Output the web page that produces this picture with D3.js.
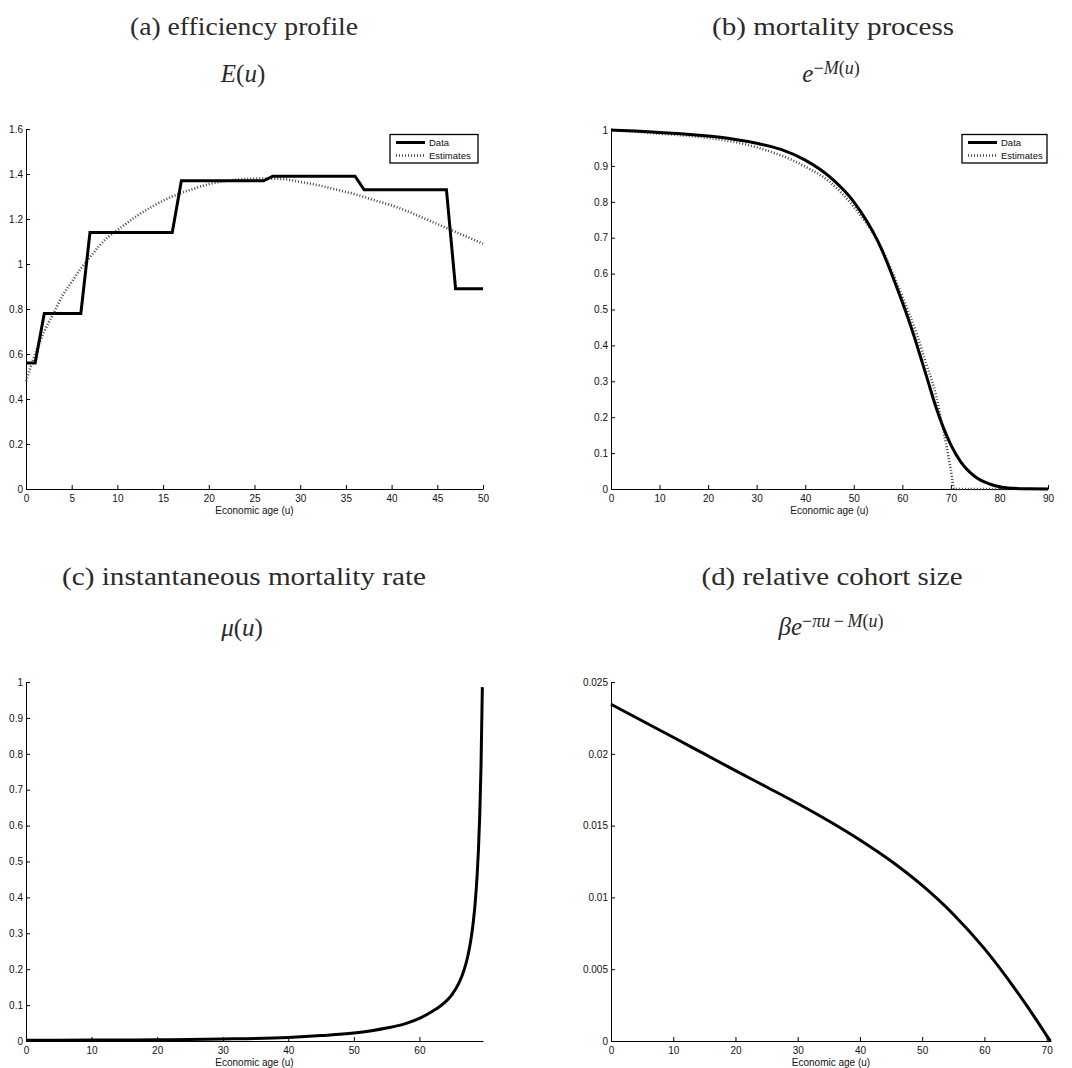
<!DOCTYPE html>
<html>
<head>
<meta charset="utf-8">
<script src="https://cdn.jsdelivr.net/npm/d3@7"></script>
<style>
  html, body { margin: 0; padding: 0; background: #fff; }
  svg { display: block; }
</style>
</head>
<body>
<svg id="chart" width="1072" height="1068"></svg>
<script>
// ---------------- DATA ----------------
// (a) efficiency profile
const effAge      = [0, 1, 2, 6, 7, 16, 17, 26, 27, 36, 37, 46, 47, 50];
const effData     = [0.56, 0.56, 0.78, 0.78, 1.14, 1.14, 1.37, 1.37, 1.39, 1.39, 1.33, 1.33, 0.89, 0.89];
const effEstAge   = [0, 1, 2, 3, 4, 5, 6, 7, 8, 9, 10, 12, 14, 16, 18, 20, 22, 24, 26, 28, 30, 32, 34, 36, 38, 40, 42, 44, 46, 48, 50];
const effEst      = [0.48, 0.60, 0.70, 0.78, 0.86, 0.92, 0.98, 1.03, 1.08, 1.12, 1.15, 1.21, 1.26, 1.30, 1.33, 1.355, 1.37, 1.378, 1.38, 1.378, 1.365, 1.35, 1.33, 1.31, 1.285, 1.26, 1.23, 1.195, 1.16, 1.125, 1.09];
const effXTicks   = [0, 5, 10, 15, 20, 25, 30, 35, 40, 45, 50];
const effYTicks   = [0, 0.2, 0.4, 0.6, 0.8, 1, 1.2, 1.4, 1.6];

// (b) mortality process
const mortAge     = [0, 5, 10, 15, 20, 25, 30, 35, 40, 45, 50, 55, 60, 62, 65, 67, 70, 72, 75, 78, 80, 83, 86, 90];
const mortData    = [1, 0.997, 0.993, 0.989, 0.983, 0.975, 0.963, 0.946, 0.916, 0.870, 0.800, 0.689, 0.520, 0.443, 0.313, 0.225, 0.123, 0.076, 0.034, 0.014, 0.0065, 0.002, 0.0005, 0];
const mortEstAge  = [0, 10, 20, 30, 40, 45, 50, 55, 60, 63, 65, 67, 68, 69, 70, 70.7, 75, 80, 90];
const mortEst     = [1, 0.99, 0.978, 0.952, 0.898, 0.856, 0.786, 0.689, 0.536, 0.43, 0.345, 0.257, 0.19, 0.127, 0.053, 0, 0, 0, 0];
const mortXTicks  = [0, 10, 20, 30, 40, 50, 60, 70, 80, 90];
const unitYTicks  = [0, 0.1, 0.2, 0.3, 0.4, 0.5, 0.6, 0.7, 0.8, 0.9, 1];

// (c) instantaneous mortality rate
const muAge       = [0, 10, 20, 30, 40, 45, 50, 55, 58, 60, 62, 63, 64, 65, 66, 66.5, 67, 67.25, 67.5, 67.75, 68, 68.25, 68.5, 68.8, 69, 69.2, 69.4, 69.6];
const muVal       = [0.002, 0.0025, 0.0035, 0.0055, 0.010, 0.015, 0.022, 0.036, 0.049, 0.063, 0.0831, 0.0945, 0.1095, 0.1302, 0.1605, 0.1816, 0.2091, 0.2262, 0.2464, 0.2706, 0.30, 0.3366, 0.3833, 0.46, 0.5308, 0.6273, 0.7667, 0.9857];
const muXTicks    = [0, 10, 20, 30, 40, 50, 60];

// (d) relative cohort size
const cohortAge   = [0, 5, 10, 15, 20, 25, 30, 35, 40, 45, 50, 55, 60, 65, 67, 68, 69, 70, 70.6];
const cohortVal   = [0.02345, 0.0223, 0.02115, 0.01999, 0.01883, 0.01769, 0.01654, 0.01532, 0.014, 0.01253, 0.01083, 0.00883, 0.00643, 0.00358, 0.00234, 0.0017, 0.00104, 0.00038, 0];
const cohortXTicks = [0, 10, 20, 30, 40, 50, 60, 70];
const cohortYTicks = [0, 0.005, 0.01, 0.015, 0.02, 0.025];

const xLabel = "Economic age (u)";
const legendLabels = ["Data", "Estimates"];

// ---------------- DRAW ----------------
const svg = d3.select("#chart");
svg.append("rect").attr("width", 1072).attr("height", 1068).attr("fill", "#fff");

const TICK_FONT = "'Liberation Sans', Arial, Helvetica, sans-serif";
const SERIF = "'Liberation Serif', 'Times New Roman', serif";

function zip(xs, ys) { return xs.map((x, i) => [x, ys[i]]); }

function panel(cfg) {
  const x = d3.scaleLinear().domain(cfg.xDomain).range([cfg.left, cfg.right]);
  const y = d3.scaleLinear().domain(cfg.yDomain).range([cfg.bottom, cfg.top]);
  const g = svg.append("g");

  const fmt = d => String(+d.toFixed(4));

  const xa = g.append("g").attr("transform", `translate(0,${cfg.bottom})`)
    .call(d3.axisBottom(x).tickValues(cfg.xTicks).tickSize(-4).tickSizeOuter(0).tickPadding(6).tickFormat(d => String(d)));
  const ya = g.append("g").attr("transform", `translate(${cfg.left},0)`)
    .call(d3.axisLeft(y).tickValues(cfg.yTicks).tickSize(-4).tickSizeOuter(0).tickPadding(3).tickFormat(fmt));
  [xa, ya].forEach(a => {
    a.selectAll("text").attr("font-family", TICK_FONT).attr("font-size", 10).attr("fill", "#111");
    a.selectAll("line").attr("stroke", "#000");
    a.select(".domain").attr("stroke", "#000").attr("stroke-width", 1);
    a.attr("font-family", null).attr("font-size", null);
  });

  g.append("text")
    .attr("x", (cfg.left + cfg.right) / 2).attr("y", cfg.bottom + 25)
    .attr("text-anchor", "middle").attr("font-family", TICK_FONT).attr("font-size", 10).attr("fill", "#111")
    .text(xLabel);

  const line = d3.line().x(d => x(d[0])).y(d => y(d[1])).curve(d3.curveMonotoneX);
  const linear = d3.line().x(d => x(d[0])).y(d => y(d[1]));

  if (cfg.est) {
    g.append("path").datum(cfg.est).attr("d", line)
      .attr("fill", "none").attr("stroke", "#444").attr("stroke-width", 2.6)
      .attr("stroke-dasharray", "1,2");
  }
  g.append("path").datum(cfg.data).attr("d", cfg.dataLinear ? linear : line)
    .attr("fill", "none").attr("stroke", "#000").attr("stroke-width", 3).attr("stroke-linejoin", "miter");

  if (cfg.legend) {
    const L = cfg.legend;
    const lg = g.append("g");
    lg.append("rect").attr("x", L.x).attr("y", L.y).attr("width", L.w).attr("height", 28.5)
      .attr("fill", "#fff").attr("stroke", "#000").attr("stroke-width", 1.3);
    lg.append("line").attr("x1", L.x + 6).attr("x2", L.x + 35).attr("y1", L.y + 8).attr("y2", L.y + 8)
      .attr("stroke", "#000").attr("stroke-width", 3);
    lg.append("line").attr("x1", L.x + 6).attr("x2", L.x + 35).attr("y1", L.y + 21).attr("y2", L.y + 21)
      .attr("stroke", "#444").attr("stroke-width", 2.6).attr("stroke-dasharray", "1,2");
    lg.append("text").attr("x", L.x + 39).attr("y", L.y + 11.5).attr("font-family", TICK_FONT).attr("font-size", 9.5).attr("fill", "#111").text(legendLabels[0]);
    lg.append("text").attr("x", L.x + 39).attr("y", L.y + 24.5).attr("font-family", TICK_FONT).attr("font-size", 9.5).attr("fill", "#111").text(legendLabels[1]);
  }
}

function title(text, cx, baseline, width) {
  svg.append("text").attr("x", cx).attr("y", baseline).attr("text-anchor", "middle")
    .attr("font-family", SERIF).attr("font-size", 25).attr("fill", "#2a2a2a")
    .attr("textLength", width).attr("lengthAdjust", "spacingAndGlyphs")
    .text(text);
}

// formula: parts = [{t, it, sup}]
function formula(parts, cx, baseline) {
  const size = 25, supSize = 18, supShift = 8;
  const t = svg.append("text").attr("x", cx).attr("y", baseline).attr("text-anchor", "middle")
    .attr("font-family", SERIF).attr("font-size", size).attr("fill", "#2a2a2a");
  let inSup = false;
  parts.forEach(p => {
    const s = t.append("tspan").text(p.t);
    if (p.it) s.attr("font-style", "italic");
    if (p.sup) { s.attr("font-size", supSize); if (!inSup) { s.attr("dy", -supShift); inSup = true; } }
    else if (inSup) { s.attr("dy", supShift); inSup = false; }
  });
}

// Titles
title("(a) efficiency profile", 244, 35, 228);
title("(b) mortality process", 833, 35, 242);
title("(c) instantaneous mortality rate", 244, 585, 364);
title("(d) relative cohort size", 832, 585, 261);

formula([{t: "E", it: true}, {t: "("}, {t: "u", it: true}, {t: ")"}], 243, 82);
formula([{t: "e", it: true}, {t: "−", sup: true}, {t: "M", it: true, sup: true}, {t: "(", sup: true}, {t: "u", it: true, sup: true}, {t: ")", sup: true}], 831, 82);
formula([{t: "μ", it: true}, {t: "("}, {t: "u", it: true}, {t: ")"}], 242, 636);
formula([{t: "β", it: true}, {t: "e", it: true}, {t: "−", sup: true}, {t: "π", it: true, sup: true}, {t: "u", it: true, sup: true}, {t: "\u2009−\u2009", sup: true}, {t: "M", it: true, sup: true}, {t: "(", sup: true}, {t: "u", it: true, sup: true}, {t: ")", sup: true}], 831, 635);

// Panels
panel({
  left: 26, right: 483, top: 129, bottom: 489,
  xDomain: [0, 50], yDomain: [0, 1.6],
  xTicks: effXTicks, yTicks: effYTicks,
  data: zip(effAge, effData), dataLinear: true,
  est: zip(effEstAge, effEst),
  legend: {x: 390, y: 134.5, w: 88}
});
panel({
  left: 611, right: 1048, top: 130, bottom: 489,
  xDomain: [0, 90], yDomain: [0, 1],
  xTicks: mortXTicks, yTicks: unitYTicks,
  data: zip(mortAge, mortData),
  est: zip(mortEstAge, mortEst),
  legend: {x: 962, y: 134.5, w: 85}
});
panel({
  left: 26, right: 483, top: 682, bottom: 1041,
  xDomain: [0, 69.7], yDomain: [0, 1],
  xTicks: muXTicks, yTicks: unitYTicks,
  data: zip(muAge, muVal)
});
panel({
  left: 611, right: 1051, top: 682, bottom: 1041,
  xDomain: [0, 70.7], yDomain: [0, 0.025],
  xTicks: cohortXTicks, yTicks: cohortYTicks,
  data: zip(cohortAge, cohortVal)
});
</script>
</body>
</html>
